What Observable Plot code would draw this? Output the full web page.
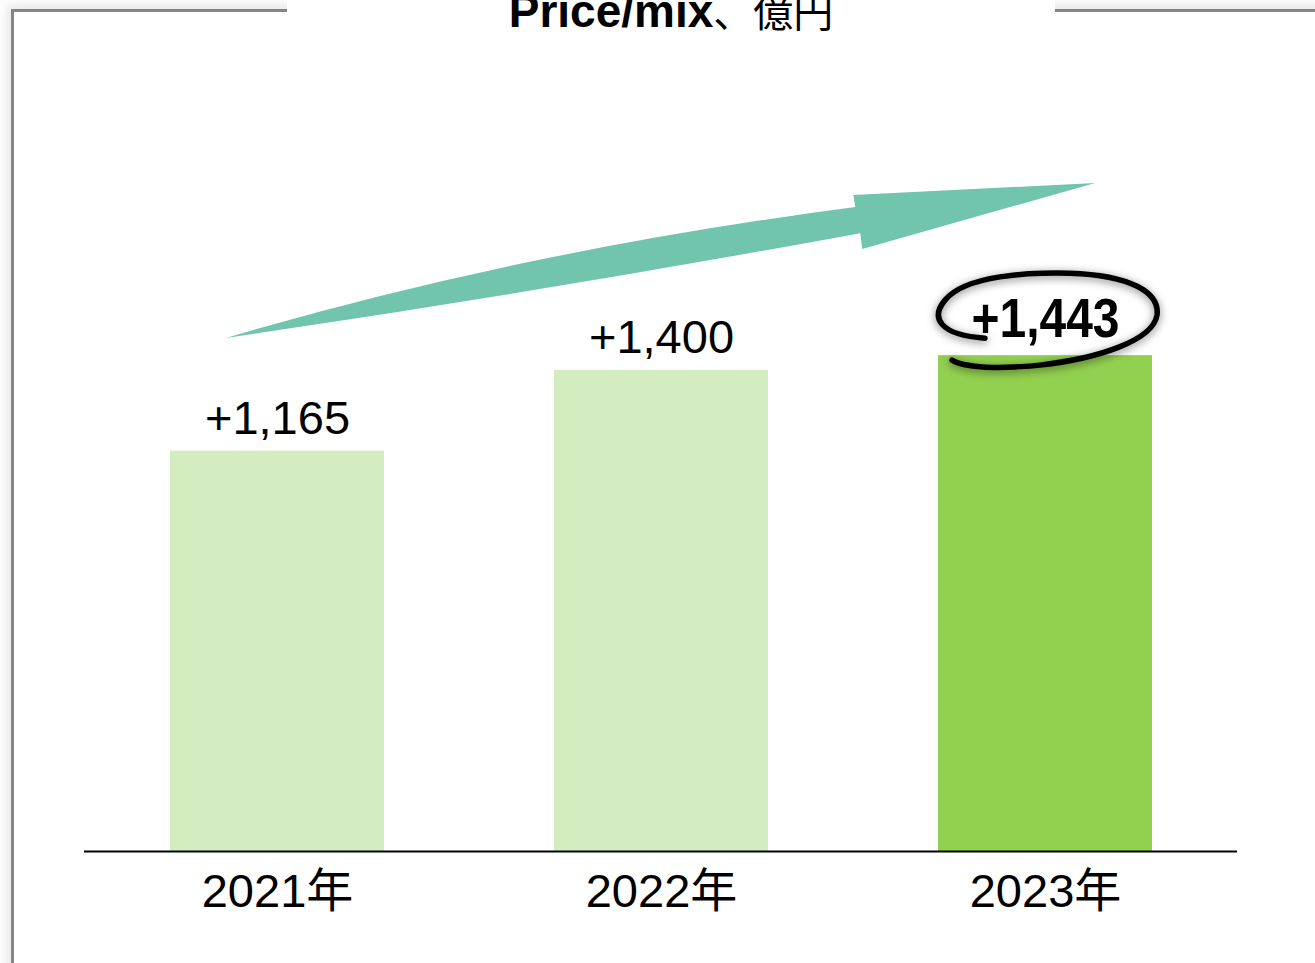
<!DOCTYPE html>
<html><head><meta charset="utf-8">
<script src="https://cdn.jsdelivr.net/npm/d3@7"></script>
<script src="https://cdn.jsdelivr.net/npm/@observablehq/plot@0.6"></script>
<style>
html,body{margin:0;padding:0;background:#fff;}
#wrap{position:relative;width:1315px;height:963px;overflow:hidden;background:#fff;}
#frame{position:absolute;left:11px;top:9px;width:2000px;height:2000px;border-top:3px solid #858585;border-left:3px solid #858585;box-shadow:0 0 10px 4px rgba(0,0,0,0.1);}
#title{position:absolute;left:287px;top:0;width:768px;height:30px;background:#fff;overflow:visible;}
#title div{position:absolute;left:0;right:0;top:-12px;text-align:center;font-family:"Liberation Sans",Arial,sans-serif;font-size:46px;line-height:46px;white-space:nowrap;color:#000;}
#title .lat{font-weight:bold;}
#title .cjk{font-family:"Noto Sans CJK JP","Liberation Sans",sans-serif;font-size:40px;font-weight:normal;line-height:0;}
#chart{position:absolute;left:0;top:0;}
</style></head>
<body>
<div id="wrap">
  <div id="frame"></div>
  <div id="chart"></div>
  <div id="title"><div><span class="lat">Price/mix</span><span class="cjk">、億円</span></div></div>
</div>
<script>
// ---- data ----
const years = ["2021年", "2022年", "2023年"];
const values = [1165, 1400, 1443];
const labels = ["+1,165", "+1,400", "+1,443"];
const highlight = [false, false, true];
const barColors = ["#D3EDC1", "#D3EDC1", "#92D050"];

// growth arrow annotation (position in band steps from first category, value units)
const arrowPos = [-0.133, 0.634, 1.506, 1.501, 2.131, 1.524, 1.519, 0.686];
const arrowVal = [1493, 1747, 1874, 1909, 1944, 1752, 1798, 1627];

const data = years.map((y, i) => ({year: y, value: values[i], label: labels[i], hi: highlight[i], color: barColors[i]}));

const W = 1315, H = 963;
const mL = 84, mR = 78, mT = 95, mB = 112;
const yMax = 2200;

const fx = d3.scaleBand(years, [mL, W - mR]).paddingInner(0.444).paddingOuter(0.222);
const fy = d3.scaleLinear([0, yMax], [H - mB, mT]);
function getScales(s) {
  return {
    x: (s && s.x && typeof s.x.bandwidth === "function") ? s.x : fx,
    y: (s && typeof s.y === "function") ? s.y : fy
  };
}

function arrowMark(index, scales) {
  const {x, y} = getScales(scales);
  const c0 = x(years[0]) + x.bandwidth() / 2;
  const step = typeof x.step === "function" ? x.step() : fx.step();
  const P = i => [c0 + arrowPos[i] * step, y(arrowVal[i])];
  const p = arrowPos.map((_, i) => P(i));
  const d = `M${p[0]}Q${p[1]} ${p[2]}L${p[3]}L${p[4]}L${p[5]}L${p[6]}Q${p[7]} ${p[0]}Z`;
  const g = d3.create("svg:g");
  g.append("path").attr("d", d).attr("fill", "#71C5AD");
  return g.node();
}

function ellipseMark(index, scales) {
  const {x, y} = getScales(scales);
  const i = highlight.indexOf(true);
  const cx = x(years[i]) + x.bandwidth() / 2;
  const cy = y(values[i]);
  const g = d3.create("svg:g");
  const defs = g.append("defs");
  const f = defs.append("filter").attr("id", "ellShadow").attr("x", "-20%").attr("y", "-40%").attr("width", "140%").attr("height", "180%");
  f.append("feDropShadow").attr("dx", 0).attr("dy", 2).attr("stdDeviation", 4).attr("flood-color", "#000").attr("flood-opacity", 0.5);
  const d = "M-60,-17 C-105,-20 -115,-37 -100,-55 C-80,-80 -15,-83 25,-82 C85,-80 115,-63 112,-40 C108,-15 55,3 -5,10 C-45,14 -80,13 -93,5";
  g.append("path")
    .attr("transform", `translate(${cx},${cy})`)
    .attr("d", d)
    .attr("fill", "none")
    .attr("stroke", "#000")
    .attr("stroke-width", 5.5)
    .attr("stroke-linecap", "round")
    .attr("filter", "url(#ellShadow)");
  return g.node();
}

const chart = Plot.plot({
  width: W, height: H,
  marginLeft: mL, marginRight: mR, marginTop: mT, marginBottom: mB,
  style: {fontFamily: "'Liberation Sans', Arial, 'Noto Sans CJK JP', sans-serif", background: "transparent", color: "#000"},
  x: {domain: years, paddingInner: 0.444, paddingOuter: 0.222, axis: null},
  y: {domain: [0, yMax], axis: null},
  marks: [
    Plot.barY(data, {x: "year", y: "value", fill: "color"}),
    arrowMark,
    ellipseMark,
    Plot.ruleY([0], {stroke: "#000", strokeWidth: 2}),
    Plot.text(data.filter(d => !d.hi), {x: "year", y: "value", text: "label", dy: -17, lineAnchor: "bottom", fontSize: 47, fill: "#000"}),
    Plot.text(data.filter(d => d.hi), {x: "year", y: "value", text: "label", dy: -19, lineAnchor: "bottom", fontSize: 56, fontWeight: "bold", fill: "#000"}),
    Plot.text(data, {x: "year", y: 0, text: "year", dy: 55, lineAnchor: "bottom", fontSize: 47, fill: "#000"})
  ]
});
document.getElementById("chart").appendChild(chart);

// condense the highlighted label to the narrow bold look of the original
d3.select(chart).selectAll("text").filter(function() {
  return labels.filter((l, i) => highlight[i]).includes(this.textContent);
}).attr("textLength", 148).attr("lengthAdjust", "spacingAndGlyphs");
</script>
</body></html>
